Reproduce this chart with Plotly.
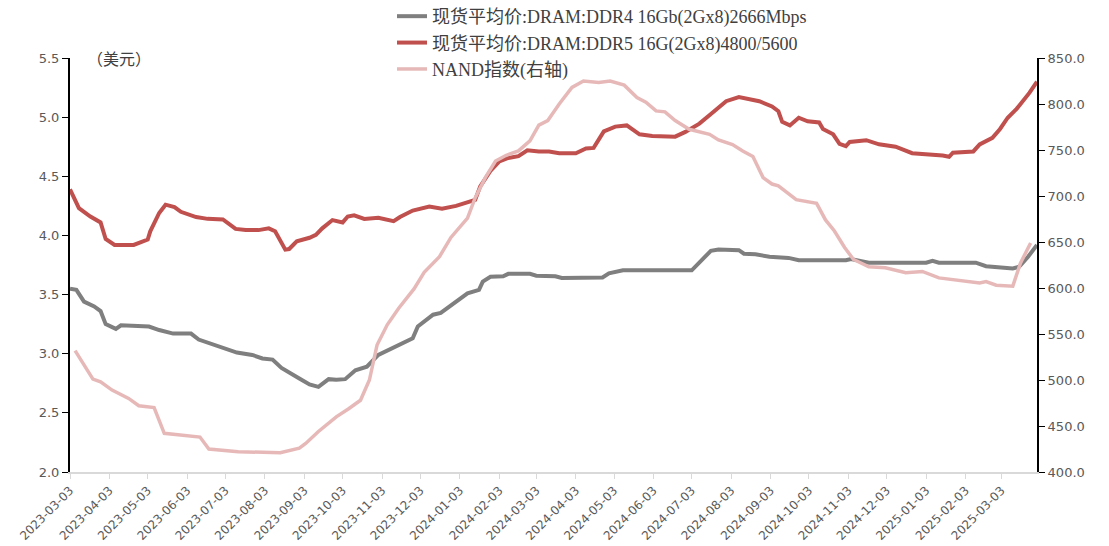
import plotly.graph_objects as go

# ---- DDR4 spot average price (left axis, USD)
ddr4_dates = ["2023-03-03", "2023-03-08", "2023-03-14", "2023-03-22", "2023-03-27", "2023-03-31",
              "2023-04-08", "2023-04-12", "2023-05-04", "2023-05-12", "2023-05-23", "2023-06-06",
              "2023-06-12", "2023-06-23", "2023-07-03", "2023-07-12", "2023-07-24", "2023-08-01",
              "2023-08-09", "2023-08-16", "2023-08-30", "2023-09-07", "2023-09-14", "2023-09-22",
              "2023-09-28", "2023-10-05", "2023-10-13", "2023-10-22", "2023-10-31", "2023-11-06",
              "2023-11-16", "2023-11-27", "2023-12-01", "2023-12-13", "2023-12-19", "2023-12-31",
              "2024-01-09", "2024-01-18", "2024-01-21", "2024-01-27", "2024-02-06", "2024-02-10",
              "2024-02-27", "2024-03-03", "2024-03-13", "2024-03-18", "2024-03-23", "2024-04-11",
              "2024-04-24", "2024-04-29", "2024-05-10", "2024-07-03", "2024-07-12", "2024-07-18",
              "2024-07-24", "2024-08-09", "2024-08-13", "2024-08-22", "2024-09-02", "2024-09-17",
              "2024-09-25", "2024-11-01", "2024-11-05", "2024-11-19", "2025-01-03", "2025-01-08",
              "2025-01-13", "2025-02-11", "2025-02-19", "2025-03-12", "2025-03-17", "2025-03-24",
              "2025-03-31"]
ddr4_values = [3.55, 3.54, 3.44, 3.40, 3.36, 3.25,
               3.21, 3.24, 3.23, 3.20, 3.17, 3.17,
               3.12, 3.08, 3.05, 3.01, 2.99, 2.96,
               2.95, 2.88, 2.79, 2.74, 2.72, 2.785,
               2.78, 2.785, 2.86, 2.89, 2.99, 3.02,
               3.075, 3.13, 3.23, 3.33, 3.345, 3.44,
               3.51, 3.54, 3.61, 3.65, 3.655, 3.675,
               3.675, 3.66, 3.66, 3.655, 3.64, 3.64,
               3.645, 3.68, 3.705, 3.705, 3.80, 3.87,
               3.88, 3.875, 3.845, 3.84, 3.82, 3.81,
               3.79, 3.79, 3.80, 3.77, 3.77, 3.785,
               3.77, 3.77, 3.74, 3.72, 3.735, 3.82,
               3.92]

# ---- DDR5 spot average price (left axis, USD)
ddr5_dates = ["2023-03-03", "2023-03-10", "2023-03-19", "2023-03-27", "2023-03-31", "2023-04-07",
              "2023-04-22", "2023-05-03", "2023-05-05", "2023-05-12", "2023-05-17", "2023-05-24",
              "2023-05-29", "2023-06-06", "2023-06-10", "2023-06-19", "2023-07-01", "2023-07-11",
              "2023-07-19", "2023-07-29", "2023-08-06", "2023-08-11", "2023-08-15", "2023-08-19",
              "2023-08-22", "2023-08-28", "2023-09-07", "2023-09-12", "2023-09-17", "2023-09-25",
              "2023-10-03", "2023-10-07", "2023-10-12", "2023-10-20", "2023-10-31", "2023-11-12",
              "2023-11-17", "2023-11-27", "2023-12-10", "2023-12-20", "2023-12-31", "2024-01-09",
              "2024-01-15", "2024-01-19", "2024-01-27", "2024-02-03", "2024-02-10", "2024-02-18",
              "2024-02-25", "2024-03-05", "2024-03-13", "2024-03-21", "2024-04-03", "2024-04-11",
              "2024-04-17", "2024-04-25", "2024-05-04", "2024-05-13", "2024-05-23", "2024-06-02",
              "2024-06-20", "2024-06-28", "2024-07-09", "2024-07-19", "2024-07-30", "2024-08-09",
              "2024-08-17", "2024-08-25", "2024-09-04", "2024-09-09", "2024-09-12", "2024-09-18",
              "2024-09-25", "2024-10-02", "2024-10-11", "2024-10-14", "2024-10-22", "2024-10-27",
              "2024-11-01", "2024-11-04", "2024-11-17", "2024-11-27", "2024-12-10", "2024-12-23",
              "2025-01-16", "2025-01-21", "2025-01-24", "2025-02-09", "2025-02-14", "2025-02-24",
              "2025-03-02", "2025-03-08", "2025-03-15", "2025-03-21", "2025-03-25", "2025-03-31"]
ddr5_values = [4.39, 4.23, 4.16, 4.11, 3.97, 3.92,
               3.92, 3.965, 4.035, 4.19, 4.26, 4.24,
               4.20, 4.175, 4.155, 4.14, 4.135, 4.055,
               4.045, 4.045, 4.06, 4.035, 3.95, 3.88,
               3.885, 3.95, 3.98, 4.005, 4.06, 4.13,
               4.11, 4.16, 4.17, 4.14, 4.15, 4.12,
               4.155, 4.21, 4.245, 4.225, 4.25, 4.28,
               4.30, 4.415, 4.545, 4.625, 4.655, 4.67,
               4.72, 4.71, 4.71, 4.695, 4.695, 4.735,
               4.74, 4.88, 4.92, 4.93, 4.855, 4.84,
               4.835, 4.875, 4.945, 5.035, 5.135, 5.17,
               5.15, 5.135, 5.09, 5.05, 4.96, 4.93,
               4.995, 4.965, 4.955, 4.90, 4.855, 4.775,
               4.755, 4.79, 4.805, 4.77, 4.75, 4.695,
               4.675, 4.665, 4.70, 4.71, 4.77, 4.825,
               4.90, 4.995, 5.07, 5.15, 5.205, 5.30]

# ---- NAND index (right axis)
nand_dates = ["2023-03-07", "2023-03-14", "2023-03-21", "2023-03-27", "2023-04-05", "2023-04-18",
              "2023-04-26", "2023-05-08", "2023-05-16", "2023-06-13", "2023-06-20", "2023-07-13",
              "2023-08-03", "2023-08-15", "2023-08-30", "2023-09-04", "2023-09-14", "2023-09-28",
              "2023-10-08", "2023-10-17", "2023-10-24", "2023-10-30", "2023-11-07", "2023-11-16",
              "2023-11-28", "2023-12-06", "2023-12-18", "2023-12-27", "2024-01-09", "2024-01-15",
              "2024-01-23", "2024-01-31", "2024-02-08", "2024-02-18", "2024-02-27", "2024-03-05",
              "2024-03-12", "2024-03-21", "2024-03-31", "2024-04-09", "2024-04-21", "2024-04-30",
              "2024-05-11", "2024-05-21", "2024-05-28", "2024-06-05", "2024-06-12", "2024-06-20",
              "2024-07-01", "2024-07-17", "2024-07-24", "2024-08-04", "2024-08-12", "2024-08-20",
              "2024-08-28", "2024-09-04", "2024-09-09", "2024-09-23", "2024-10-09", "2024-10-16",
              "2024-10-23", "2024-10-31", "2024-11-07", "2024-11-19", "2024-12-02", "2024-12-18",
              "2024-12-31", "2025-01-13", "2025-02-14", "2025-02-19", "2025-02-27", "2025-03-12",
              "2025-03-18", "2025-03-26"]
nand_values = [532, 517, 501, 498, 489, 480,
               472, 470, 442, 438, 425, 422,
               421, 421, 426, 431, 444, 460,
               469, 478, 500, 538, 560, 578,
               599, 617, 634, 655, 676, 698,
               720, 738, 744, 749, 760, 777,
               782, 800, 818, 825, 823.5, 825,
               820.5, 807, 802, 792.5, 791.5, 782,
               772.5, 767, 761, 756, 749, 743,
               720, 713, 711, 696, 692, 674,
               662, 644, 631, 623, 622, 616.5,
               618, 611, 605.5, 607, 603, 602,
               627, 649]

# ---- axis ticks
tick_dates = ["2023-03-03", "2023-04-03", "2023-05-03", "2023-06-03", "2023-07-03", "2023-08-03",
              "2023-09-03", "2023-10-03", "2023-11-03", "2023-12-03", "2024-01-03", "2024-02-03",
              "2024-03-03", "2024-04-03", "2024-05-03", "2024-06-03", "2024-07-03", "2024-08-03",
              "2024-09-03", "2024-10-03", "2024-11-03", "2024-12-03", "2025-01-03", "2025-02-03",
              "2025-03-03"]

names = ["现货平均价:DRAM:DDR4 16Gb(2Gx8)2666Mbps",
         "现货平均价:DRAM:DDR5 16G(2Gx8)4800/5600",
         "NAND指数(右轴)"]
colors = ["#7f7f7f", "#c0504d", "#e6b9b8"]

fig = go.Figure()
fig.add_trace(go.Scatter(x=ddr4_dates, y=ddr4_values, name=names[0], mode="lines",
                         line=dict(color=colors[0], width=4), yaxis="y"))
fig.add_trace(go.Scatter(x=ddr5_dates, y=ddr5_values, name=names[1], mode="lines",
                         line=dict(color=colors[1], width=4), yaxis="y"))
fig.add_trace(go.Scatter(x=nand_dates, y=nand_values, name=names[2], mode="lines",
                         line=dict(color=colors[2], width=3.5), yaxis="y2"))

tick_font = dict(family="DejaVu Sans", size=13, color="#595959")
xtick_font = dict(family="DejaVu Sans", size=12, color="#595959")

fig.update_layout(
    width=1109, height=546,
    margin=dict(l=70, r=72, t=58, b=74, autoexpand=False),
    paper_bgcolor="white", plot_bgcolor="white",
    showlegend=True,
    legend=dict(x=0.333, y=1.145, xanchor="left", yanchor="top",
                bgcolor="rgba(0,0,0,0)", tracegroupgap=0,
                font=dict(family="Liberation Serif, Noto Sans CJK SC", size=18, color="#404040")),
    xaxis=dict(type="date", range=["2023-03-03", "2025-03-31"], automargin=False,
               tickvals=tick_dates, tickformat="%Y-%m-%d", tickangle=-45,
               tickfont=xtick_font, showgrid=False, zeroline=False,
               showline=True, linecolor="#d9d9d9", linewidth=1.5,
               ticks="outside", ticklen=5, tickcolor="#d9d9d9"),
    yaxis=dict(range=[2.0, 5.5], dtick=0.5, tickformat=".1f", tickfont=tick_font, automargin=False,
               showgrid=False, zeroline=False, showline=True, linecolor="black", linewidth=2,
               ticks="outside", ticklen=6, tickcolor="black"),
    yaxis2=dict(range=[400, 850], dtick=50, tickformat=".1f", tickfont=tick_font, automargin=False,
                overlaying="y", side="right",
                showgrid=False, zeroline=False, showline=True, linecolor="black", linewidth=2,
                ticks="outside", ticklen=6, tickcolor="black"),
    annotations=[dict(text="（美元）", xref="paper", yref="paper", x=0.016, y=1.0,
                      xanchor="left", yanchor="middle", showarrow=False,
                      font=dict(family="Noto Sans CJK SC", size=16, color="#404040"))],
)

fig.write_html("out.html", config={"displayModeBar": False},
               post_script="document.body.style.margin='0px';")
